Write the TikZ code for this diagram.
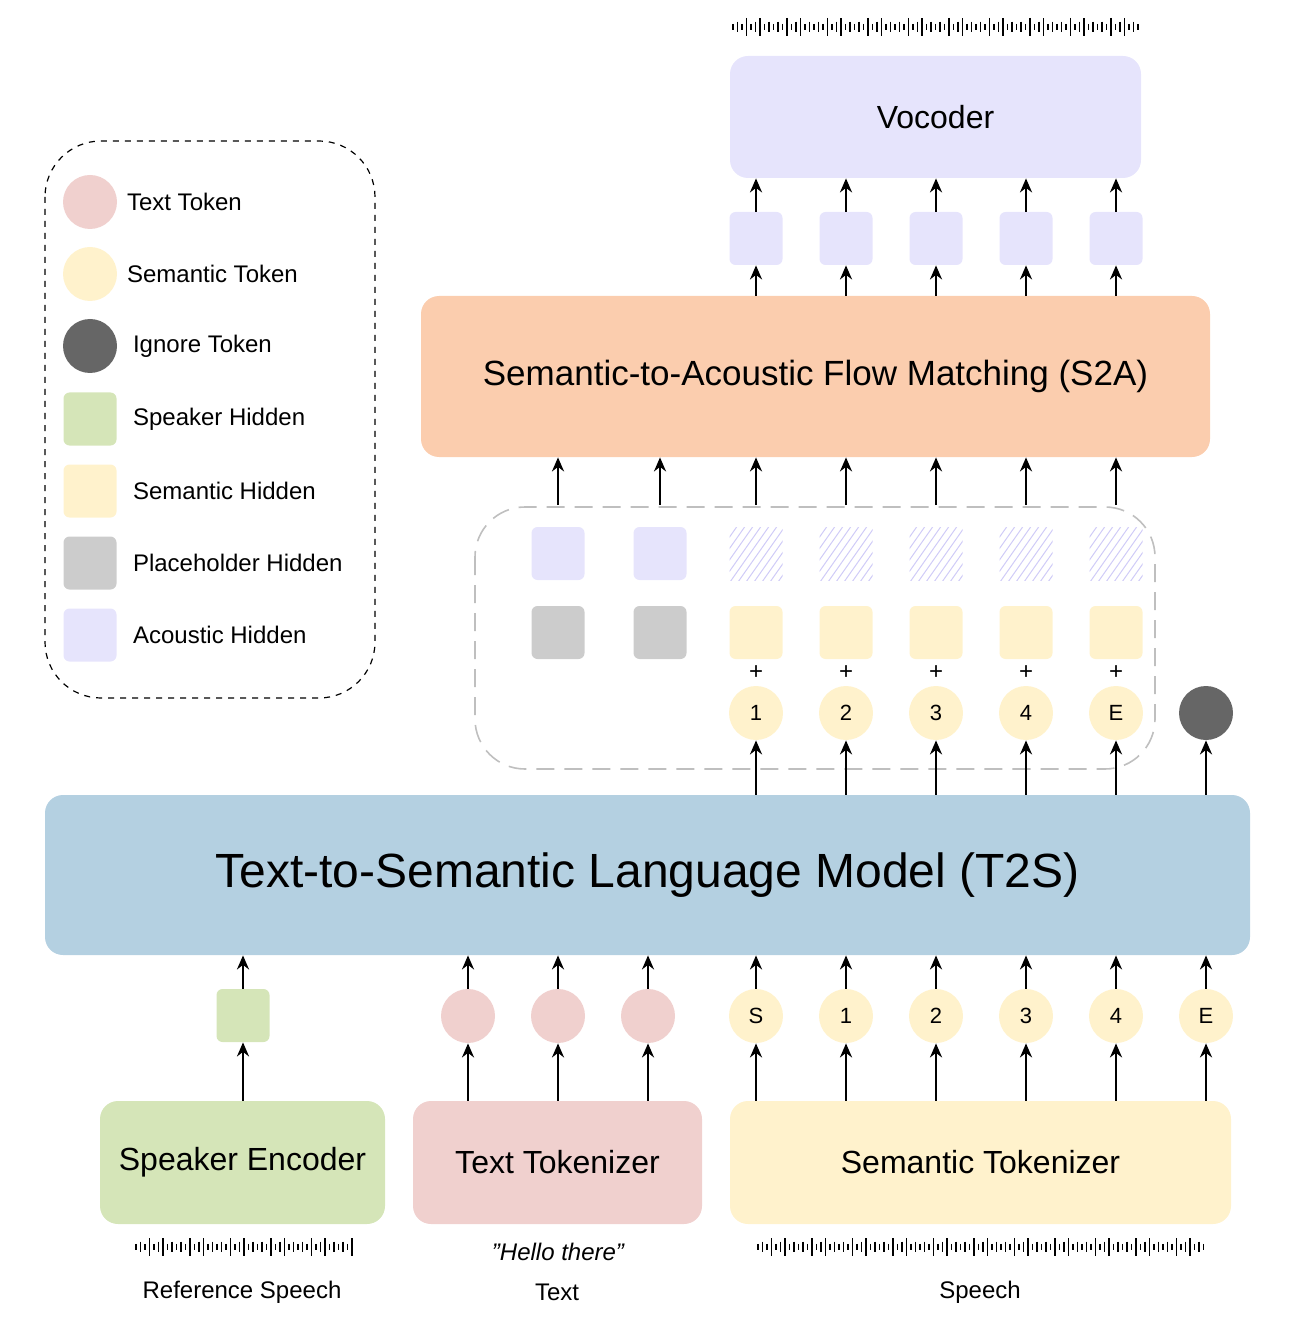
\documentclass[tikz,border=0pt]{standalone}
\usepackage{fontspec}
\setmainfont{Liberation Sans}
\usetikzlibrary{arrows.meta}
\definecolor{cyel}{HTML}{FFF2CC}
\definecolor{cpink}{HTML}{F0D0CE}
\definecolor{cgreen}{HTML}{D5E5B8}
\definecolor{clav}{HTML}{E6E4FC}
\definecolor{cgray}{HTML}{CCCCCC}
\definecolor{cdark}{HTML}{666666}
\definecolor{corange}{HTML}{FBCDAE}
\definecolor{cblue}{HTML}{B4D0E1}
\definecolor{chatch}{HTML}{CFCBF7}
\tikzset{
  arr/.style={-{Stealth[length=7pt,width=6pt]},line width=1.2pt},
  big/.style={rounded corners=9pt,draw=none,inner sep=0},
  sq/.style={rounded corners=3pt,minimum width=26.5pt,minimum height=26.5pt,inner sep=0},
  tok/.style={circle,minimum size=27pt,inner sep=0,font=\fontsize{11}{12}\selectfont},
  lbl/.style={font=\fontsize{12}{14}\selectfont,anchor=west},
}
\newcommand{\mywave}[3]{% x1 x2 yc
  \pgfmathsetmacro{\nb}{int((#2-#1)/4.5)}
  \foreach \i in {0,...,\nb}{
    \pgfmathsetmacro{\hh}{{0.35,0.6,0.35,1,0.35,0.6,0.95,0.35,0.6}[mod(\i,9)]}
    \draw[line width=0.7pt] ({#1+\i*4.5},{#3-9*\hh}) -- ({#1+\i*4.5},{#3+9*\hh});
  }}
\begin{document}
\begin{tikzpicture}[x=0.5pt,y=-0.5pt]
\useasboundingbox (0,0) rectangle (1288,1320);
% legend
\draw[dashed,line width=0.6pt,rounded corners=28pt] (45,141) rectangle (375,698);
\node[tok,fill=cpink] (l1) at (90,202) {};
\node[tok,fill=cyel] (l2) at (90,274) {};
\node[tok,fill=cdark] (l3) at (90,346) {};
\node[sq,fill=cgreen] (l4) at (90,419) {};
\node[sq,fill=cyel] (l5) at (90,491) {};
\node[sq,fill=cgray] (l6) at (90,563) {};
\node[sq,fill=clav] (l7) at (90,635) {};
\node[lbl] (t1) at (120,202) {Text Token};
\node[lbl] (t2) at (120,274) {Semantic Token};
\node[lbl] (t3) at (126,346) {Ignore Token};
\node[lbl] (t4) at (126,419) {Speaker Hidden};
\node[lbl] (t5) at (126,491) {Semantic Hidden};
\node[lbl] (t6) at (126,563) {Placeholder Hidden};
\node[lbl] (t7) at (126,635) {Acoustic Hidden};
% vocoder
\mywave{733}{1138}{27}
\node[big,fill=clav,minimum width=205.5pt,minimum height=61pt,font=\fontsize{16}{18}\selectfont] (voc) at (935.5,117) {Vocoder};
\node[big,fill=corange,minimum width=394.5pt,minimum height=80.5pt,font=\fontsize{17.5}{20}\selectfont] (s2a) at (815.5,376.5) {Semantic-to-Acoustic Flow Matching (S2A)};
\foreach \x [count=\k] in {756,846,936,1026,1116}{
  \node[sq,fill=clav] (a\k) at (\x,238.5) {};
  \draw[arr] (s2a.north -| a\k) -- (a\k.south);
  \draw[arr] (a\k.north) -- (voc.south -| a\k);
}
% dashed group
\draw[dashed,dash pattern=on 9pt off 5pt,draw=black!25,line width=0.8pt,rounded corners=25pt] (475,507) rectangle (1155,769);
\node[sq,fill=clav] (h1) at (558,553.5) {};
\node[sq,fill=clav] (h2) at (660,553.5) {};
\node[sq,fill=cgray] (g1) at (558,632.5) {};
\node[sq,fill=cgray] (g2) at (660,632.5) {};
\foreach \n in {1,2}{ \coordinate (d\n) at (h\n.north |- 0,505); \draw[arr] (d\n) -- (s2a.south -| d\n); }
\node[big,fill=cblue,minimum width=602.5pt,minimum height=80pt,font=\fontsize{24}{28}\selectfont] (t2s) at (647.5,875) {Text-to-Semantic Language Model (T2S)};
\foreach \x/\t [count=\k] in {756/1,846/2,936/3,1026/4,1116/E}{
  \begin{scope}
    \clip (\x-26.5,527) rectangle (\x+26.5,580);
    \foreach \s in {-60,-52,...,60} \draw[chatch,line width=0.5pt] (\x+\s-30,582) -- (\x+\s+10,525);
  \end{scope}
  \node[sq,minimum size=26.5pt] (x\k) at (\x,553.5) {};
  \node[sq,fill=cyel] (y\k) at (\x,632.5) {};
  \node[font=\fontsize{12}{12}\selectfont] (p\k) at (\x,673) {+};
  \node[tok,fill=cyel] (c\k) at (\x,713) {\t};
  \coordinate (e\k) at (\x,505);
  \draw[arr] (e\k) -- (s2a.south -| e\k);
  \draw[arr] (t2s.north -| c\k) -- (c\k.south);
}
\node[tok,fill=cdark] (ig) at (1206,713) {};
\draw[arr] (t2s.north -| ig) -- (ig.south);
% bottom boxes
\node[big,fill=cgreen,minimum width=142.5pt,minimum height=61.5pt,font=\fontsize{16}{18}\selectfont] (spk) at (242.5,1162.5) {Speaker Encoder};
\node[big,fill=cpink,minimum width=144.5pt,minimum height=61.5pt,font=\fontsize{16}{18}\selectfont] (ttok) at (557.5,1162.5) {Text Tokenizer};
\node[big,fill=cyel,minimum width=250.5pt,minimum height=61.5pt,font=\fontsize{16}{18}\selectfont] (stok) at (980.5,1162.5) {Semantic Tokenizer};
\node[sq,fill=cgreen] (sp) at (243,1015.5) {};
\draw[arr] (spk.north -| sp) -- (sp.south);
\draw[arr] (sp.north) -- (t2s.south -| sp);
\foreach \x [count=\k] in {468,558,648}{
  \node[tok,fill=cpink] (tt\k) at (\x,1016) {};
  \draw[arr] (ttok.north -| tt\k) -- (tt\k.south);
  \draw[arr] (tt\k.north) -- (t2s.south -| tt\k);
}
\foreach \x/\t [count=\k] in {756/S,846/1,936/2,1026/3,1116/4,1206/E}{
  \node[tok,fill=cyel] (st\k) at (\x,1016) {\t};
  \draw[arr] (stok.north -| st\k) -- (st\k.south);
  \draw[arr] (st\k.north) -- (t2s.south -| st\k);
}
\mywave{136}{353}{1247}
\mywave{758}{1205}{1247}
\node[font=\fontsize{12}{14}\selectfont\rmfamily\itshape] (hello) at (558,1252) {"Hello there"};
\node[font=\fontsize{12}{14}\selectfont] (r1) at (242,1292) {Reference Speech};
\node[font=\fontsize{12}{14}\selectfont] (r2) at (557,1292) {Text};
\node[font=\fontsize{12}{14}\selectfont] (r3) at (980,1292) {Speech};
\end{tikzpicture}
\end{document}
